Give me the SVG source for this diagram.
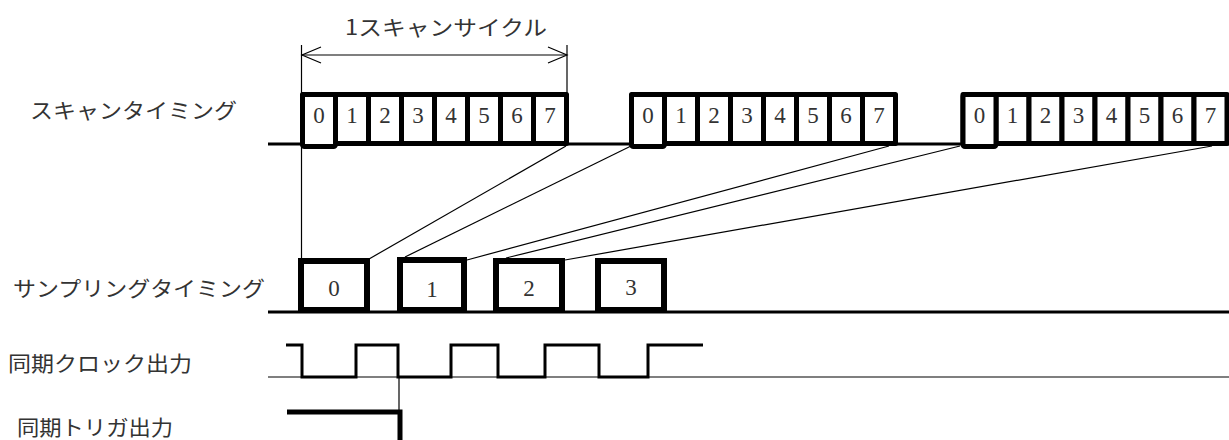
<svg xmlns="http://www.w3.org/2000/svg" width="1229" height="440" viewBox="0 0 1229 440">
<style>
.lbl{font-family:"Noto Sans CJK JP","Noto Sans",sans-serif;font-size:21px;fill:#333}
.dig{font-family:"Liberation Serif",serif;font-size:23px;fill:#333;text-anchor:middle}
.cell{fill:#fff;stroke:#000;stroke-width:5;stroke-linejoin:round}
.sbox{fill:#fff;stroke:#000;stroke-width:6}
.thin{stroke:#000;stroke-width:1.2;fill:none}
.base{stroke:#000;stroke-width:3;fill:none}
</style>
<defs>
<g id="block">
<rect class="cell" x="0" y="0" width="33" height="49"/>
<rect class="cell" x="33" y="0" width="33" height="49"/>
<rect class="cell" x="66" y="0" width="33" height="49"/>
<rect class="cell" x="99" y="0" width="33" height="49"/>
<rect class="cell" x="132" y="0" width="33" height="49"/>
<rect class="cell" x="165" y="0" width="33" height="49"/>
<rect class="cell" x="198" y="0" width="33" height="49"/>
<rect class="cell" x="231" y="0" width="33" height="49"/>
<rect class="cell" x="0" y="0" width="33" height="52" rx="2"/>
<text class="dig" x="16.5" y="28">0</text>
<text class="dig" x="49.5" y="28">1</text>
<text class="dig" x="82.5" y="28">2</text>
<text class="dig" x="115.5" y="28">3</text>
<text class="dig" x="148.5" y="28">4</text>
<text class="dig" x="181.5" y="28">5</text>
<text class="dig" x="214.5" y="28">6</text>
<text class="dig" x="247.5" y="28">7</text>
</g>
</defs>

<g id="labels">
<text class="lbl" x="30" y="118" textLength="207" lengthAdjust="spacingAndGlyphs">スキャンタイミング</text>
<text class="lbl" x="13" y="296" textLength="252" lengthAdjust="spacingAndGlyphs">サンプリングタイミング</text>
<text class="lbl" x="8" y="371" textLength="184" lengthAdjust="spacingAndGlyphs">同期クロック出力</text>
<text class="lbl" x="17" y="435" textLength="156" lengthAdjust="spacingAndGlyphs">同期トリガ出力</text>
</g>

<g id="dimension">
<text class="lbl" x="345" y="35" textLength="202" lengthAdjust="spacingAndGlyphs">1スキャンサイクル</text>
<line class="thin" x1="302" y1="55" x2="567" y2="55"/>
<polyline class="thin" points="321,47 302,55 321,63" stroke-width="1.5"/>
<polyline class="thin" points="548,47 567,55 548,63" stroke-width="1.5"/>
<line class="thin" x1="567" y1="45" x2="567" y2="94"/>
</g>

<g id="baselines">
<line class="base" x1="268" y1="144" x2="1229" y2="144" stroke-width="3.5"/>
<line class="base" x1="268" y1="312" x2="1229" y2="312" stroke-width="3.5"/>
<line class="thin" x1="268" y1="377" x2="1229" y2="377"/>
</g>

<g id="scan1"><use href="#block" x="302.5" y="94.5"/></g>
<g id="scan2"><use href="#block" x="631.5" y="94.5"/></g>
<g id="scan3"><use href="#block" x="963" y="94.5"/></g>

<g id="connectors">
<line class="thin" x1="301.5" y1="45" x2="301.5" y2="259"/>
<line class="thin" x1="566" y1="146" x2="369" y2="259"/>
<line class="thin" x1="631" y1="146" x2="405" y2="257"/>
<line class="thin" x1="889" y1="146" x2="467" y2="260"/>
<line class="thin" x1="960" y1="146" x2="506" y2="258"/>
<line class="thin" x1="1212" y1="146" x2="565" y2="260"/>
<line class="thin" x1="399" y1="377" x2="399" y2="412"/>
</g>

<g id="sample0"><rect class="sbox" x="301" y="261" width="66" height="49"/><text class="dig" x="334" y="296">0</text></g>
<g id="sample1"><rect class="sbox" x="400" y="260" width="64" height="50"/><text class="dig" x="432" y="297">1</text></g>
<g id="sample2"><rect class="sbox" x="496" y="261" width="66" height="49"/><text class="dig" x="529" y="296">2</text></g>
<g id="sample3"><rect class="sbox" x="598" y="261" width="66" height="49"/><text class="dig" x="631" y="295">3</text></g>

<g id="clock">
<polyline fill="none" stroke="#000" stroke-width="3" points="286,345 302,345 302,377 356,377 356,345 398,345 398,377 451,377 451,345 498,345 498,377 545,377 545,345 599,345 599,377 648,377 648,345 703,345"/>
</g>

<g id="trigger">
<polyline fill="none" stroke="#000" stroke-width="5" points="287,412 400,412 400,440"/>
</g>
</svg>
